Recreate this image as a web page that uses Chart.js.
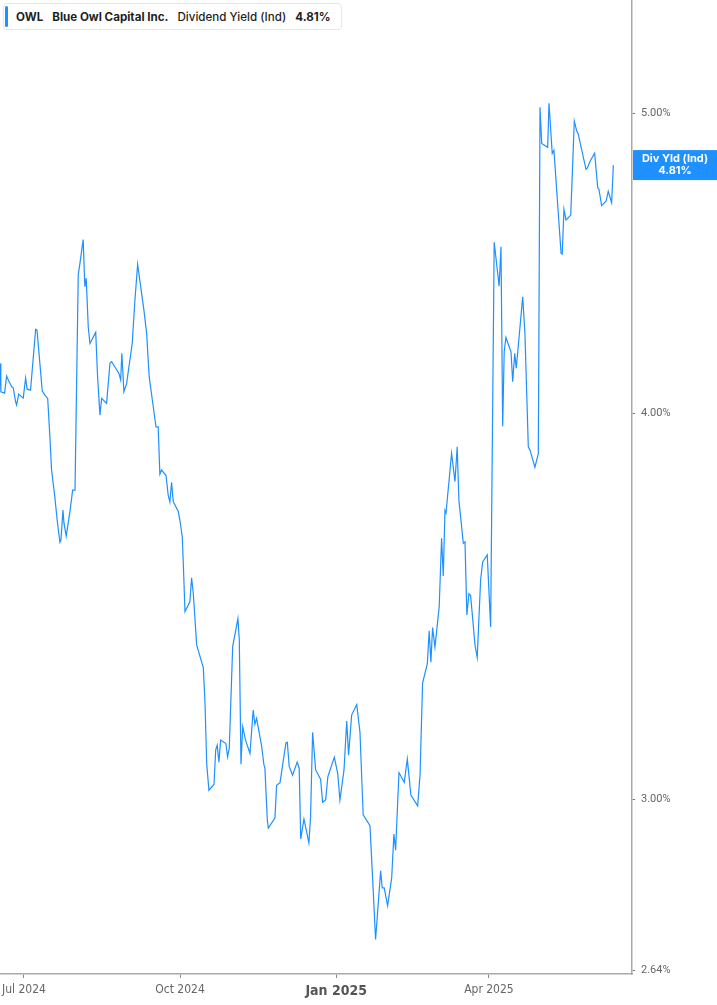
<!DOCTYPE html>
<html lang="en">
<head>
    <meta charset="UTF-8">
    <title>OWL Dividend Yield</title>
    <script src="https://cdn.jsdelivr.net/npm/chart.js"></script>
    <style>
        html, body { margin: 0; padding: 0; background: #fff; overflow: hidden; }
        #wrap { position: relative; width: 717px; height: 1005px; }
        #legend {
            position: absolute; left: 3px; top: 3px; height: 27px; width: 339px;
            border: 1px solid #e6e6e6; border-radius: 4px; background: #fff;
            font-family: Inter, 'Noto Sans', sans-serif; font-size: 11.6px; color: #1f1f1f;
            display: flex; align-items: center; box-sizing: border-box;
        }
        #legend .bar { width: 3px; height: 21px; background: #1e90ff; border-radius: 2px; margin-left: 1px; margin-right: 8px; }
        #legend span { margin-right: 9px; white-space: nowrap; }
        #legend .b { font-weight: 700; }
        #legend .m { font-weight: 500; }
    </style>
</head>
<body>
<div id="wrap">
    <canvas id="chart" width="717" height="1005"></canvas>
    <div id="legend">
        <div class="bar"></div>
        <span class="b">OWL</span>
        <span class="b">Blue Owl Capital Inc.</span>
        <span class="m">Dividend Yield (Ind)</span>
        <span class="b">4.81%</span>
    </div>
</div>

<script>
    // days counted from 1 Jul 2024
    const dayOffsets = [
        -14.1, -13.6, -11.4, -10.2, -8.8, -7.2, -6.3, -4.9, -4.3, -3.1,
        -1.8, -0.4, 1.0, 1.9, 3.9, 6.9, 7.7, 10.8, 12.4, 14.0,
        15.3, 16.3, 18.2, 19.6, 21.2, 21.8, 23.0, 23.6, 24.9, 27.1,
        28.7, 30.1, 32.0, 33.0, 34.9, 35.9, 36.7, 37.9, 38.9, 42.3,
        43.4, 44.8, 45.8, 48.7, 50.7, 51.7, 53.6, 56.0, 57.0, 57.7,
        58.9, 60.5, 63.8, 65.4, 67.0, 70.7, 72.3, 73.8, 76.2, 77.8,
        79.1, 80.1, 81.1, 82.7, 83.7, 85.0, 86.0, 87.0, 88.0, 90.9,
        91.9, 93.3, 93.9, 94.9, 97.8, 98.8, 99.8, 101.8, 105.7, 106.7,
        107.7, 109.0, 112.0, 113.0, 113.9, 114.9, 115.9, 119.0, 120.0, 121.0,
        123.0, 126.1, 126.9, 127.9, 128.9, 130.6, 133.2, 135.1, 136.1, 137.1,
        140.1, 141.4, 142.0, 143.4, 144.0, 147.9, 148.9, 150.9, 154.4, 155.2,
        156.3, 158.3, 161.0, 162.2, 163.1, 165.0, 167.9, 168.9, 170.1, 171.9,
        174.8, 176.0, 177.8, 179.1, 182.9, 184.9, 186.2, 188.6, 190.2, 191.3,
        193.1, 196.1, 198.0, 199.9, 203.9, 205.5, 207.2, 208.2, 210.2, 211.1,
        212.3, 214.3, 216.7, 218.0, 219.0, 221.0, 224.1, 225.9, 228.0, 232.0,
        233.4, 234.9, 237.7, 238.8, 239.8, 240.8, 242.2, 244.7, 246.1, 247.1,
        248.1, 248.7, 252.0, 254.0, 255.3, 256.3, 258.9, 259.9, 261.0, 262.2,
        263.2, 265.8, 267.1, 269.1, 270.3, 273.0, 275.0, 277.1, 280.0, 281.1,
        282.1, 283.0, 284.0, 287.0, 288.0, 289.2, 290.1, 293.9, 295.2, 297.2,
        298.2, 301.1, 303.1, 304.1, 305.1, 308.6, 309.4, 311.3, 312.3, 316.5,
        317.2, 318.2, 319.4, 322.2, 324.3, 325.7, 326.6, 331.2, 332.0, 333.6,
        336.3, 338.1, 338.8, 340.4, 343.0, 344.3, 346.3, 347.3
    ];

    // dividend yield (%)
    const yieldPct = [
        4.151, 4.064, 4.060, 4.112, 4.095, 4.079, 4.076, 4.034, 4.024, 4.057,
        4.051, 4.045, 4.106, 4.072, 4.069, 4.258, 4.255, 4.066, 4.054, 4.044,
        3.930, 3.834, 3.758, 3.693, 3.633, 3.639, 3.721, 3.685, 3.650, 3.716,
        3.777, 3.777, 4.434, 4.472, 4.552, 4.395, 4.423, 4.266, 4.213, 4.248,
        4.110, 3.994, 4.044, 4.029, 4.151, 4.156, 4.140, 4.120, 4.100, 4.182,
        4.064, 4.089, 4.213, 4.351, 4.469, 4.319, 4.245, 4.110, 4.019, 3.959,
        3.959, 3.822, 3.834, 3.824, 3.819, 3.763, 3.744, 3.799, 3.744, 3.718,
        3.693, 3.648, 3.577, 3.450, 3.476, 3.538, 3.497, 3.365, 3.309, 3.223,
        3.080, 3.020, 3.033, 3.112, 3.123, 3.084, 3.135, 3.127, 3.096, 3.116,
        3.361, 3.432, 3.378, 3.079, 3.166, 3.135, 3.104, 3.206, 3.172, 3.186,
        3.120, 3.078, 3.070, 2.954, 2.936, 2.958, 3.031, 3.037, 3.129, 3.130,
        3.074, 3.054, 3.084, 3.070, 2.912, 2.956, 2.904, 2.961, 3.153, 3.066,
        3.045, 2.993, 2.999, 3.051, 3.095, 3.058, 2.998, 3.066, 3.180, 3.100,
        3.194, 3.219, 3.154, 2.965, 2.941, 2.825, 2.702, 2.748, 2.844, 2.808,
        2.808, 2.771, 2.829, 2.923, 2.888, 3.060, 3.038, 3.091, 3.009, 2.985,
        3.054, 3.271, 3.319, 3.401, 3.322, 3.409, 3.360, 3.463, 3.644, 3.543,
        3.720, 3.713, 3.882, 3.801, 3.901, 3.749, 3.630, 3.634, 3.441, 3.496,
        3.492, 3.365, 3.334, 3.533, 3.580, 3.599, 3.411, 4.543, 4.397, 4.528,
        3.961, 4.187, 4.232, 4.187, 4.095, 4.182, 4.136, 4.362, 4.245, 3.901,
        3.891, 3.842, 3.881, 5.024, 4.890, 4.876, 5.039, 4.854, 4.866, 4.506,
        4.503, 4.656, 4.619, 4.636, 4.972, 4.937, 4.925, 4.797, 4.802, 4.826,
        4.855, 4.731, 4.727, 4.669, 4.684, 4.719, 4.679, 4.812
    ];

    const xTickDays = [0, 92, 184, 274];
    const xTickLabels = ['Jul 2024', 'Oct 2024', 'Jan 2025', 'Apr 2025'];
    const yTickValues = [5, 4, 3, 2.64];

    const lineColor = '#1e90ff';
    const axisColor = '#aaaaaa';
    const labelColor = '#666666';
    const narrowFont = "'Liberation Sans Narrow', 'DejaVu Sans Condensed', sans-serif";

    const points = dayOffsets.map((d, i) => ({ x: d, y: yieldPct[i] }));

    // badge with the last value on the right axis
    const lastValueBadge = {
        id: 'lastValueBadge',
        afterDraw(chart) {
            const ctx = chart.ctx;
            const yScale = chart.scales.y;
            const last = yieldPct[yieldPct.length - 1];
            const yPix = yScale.getPixelForValue(last);
            const left = chart.chartArea.right + 1;
            const w = chart.width - left;
            ctx.save();
            ctx.fillStyle = lineColor;
            ctx.fillRect(left, yPix - 15, w, 30);
            ctx.fillStyle = '#ffffff';
            ctx.font = "bold 11px Inter, 'Noto Sans', sans-serif";
            ctx.textAlign = 'center';
            ctx.textBaseline = 'middle';
            ctx.fillText('Div Yld (Ind)', left + w / 2, yPix - 6);
            ctx.fillText(last.toFixed(2) + '%', left + w / 2, yPix + 6);
            ctx.restore();
        }
    };

    new Chart(document.getElementById('chart').getContext('2d'), {
        type: 'line',
        data: {
            datasets: [{
                data: points,
                borderColor: lineColor,
                borderWidth: 1.2,
                pointRadius: 0,
                tension: 0,
                fill: false
            }]
        },
        options: {
            responsive: false,
            animation: false,
            devicePixelRatio: 1,
            layout: { padding: 0 },
            plugins: {
                legend: { display: false },
                tooltip: { enabled: false }
            },
            scales: {
                x: {
                    type: 'linear',
                    min: -14.1,
                    max: 358.3,
                    afterBuildTicks(scale) {
                        scale.ticks = xTickDays.map(v => ({ value: v }));
                    },
                    afterFit(scale) {
                        scale.height = 31;
                        scale.paddingLeft = 0;
                        scale.paddingRight = 0;
                    },
                    grid: { drawOnChartArea: false, drawTicks: true, tickLength: 4, tickColor: '#888' },
                    border: { display: true, color: axisColor, width: 1.5 },
                    ticks: {
                        autoSkip: false,
                        maxRotation: 0,
                        padding: 5,
                        color: ctx => ctx.tick && ctx.tick.value === 184 ? '#555' : labelColor,
                        font: ctx => (ctx.tick && ctx.tick.value === 184)
                            ? { family: narrowFont, size: 14, weight: 'bold' }
                            : { family: narrowFont, size: 12 },
                        callback: v => xTickLabels[xTickDays.indexOf(v)]
                    }
                },
                y: {
                    type: 'logarithmic',
                    position: 'right',
                    min: 2.6335,
                    max: 5.442,
                    afterBuildTicks(scale) {
                        scale.ticks = yTickValues.map(v => ({ value: v }));
                    },
                    afterFit(scale) {
                        scale.width = 85;
                        scale.paddingTop = 0;
                        scale.paddingBottom = 0;
                    },
                    grid: { drawOnChartArea: false, drawTicks: true, tickLength: 3, tickColor: '#777' },
                    border: { display: true, color: axisColor, width: 1.5 },
                    ticks: {
                        autoSkip: false,
                        padding: 6,
                        color: labelColor,
                        font: { family: "Roboto, 'Noto Sans', sans-serif", size: 11 },
                        callback: v => Number(v).toFixed(2) + '%'
                    }
                }
            }
        },
        plugins: [lastValueBadge]
    });
</script>
</body>
</html>
